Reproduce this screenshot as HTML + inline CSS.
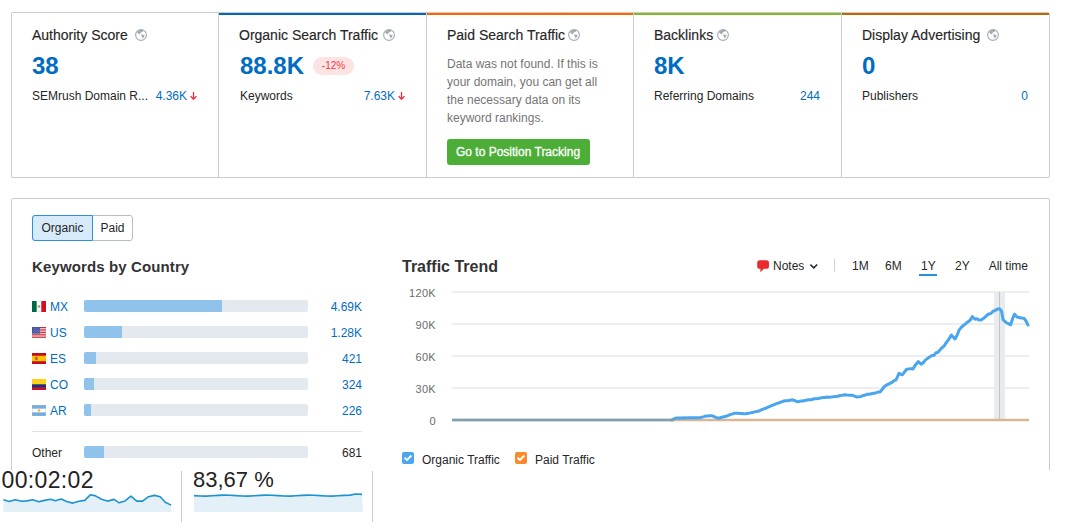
<!DOCTYPE html>
<html><head><meta charset="utf-8"><style>
html,body{margin:0;padding:0;background:#fff;width:1073px;height:530px;overflow:hidden;position:relative}
body{font-family:"Liberation Sans", sans-serif;}
.t{position:absolute;white-space:nowrap}
.r{position:absolute}
svg.r{display:block}
.r svg{display:block}
</style></head><body>
<div class="r" style="left:11px;top:12px;width:1039px;height:166px;box-sizing:border-box;border:1px solid #cccccc;border-radius:2px;background:#fff"></div>
<div class="r" style="left:218px;top:13px;width:1px;height:164px;background:#cccccc"></div>
<div class="r" style="left:426px;top:13px;width:1px;height:164px;background:#cccccc"></div>
<div class="r" style="left:633px;top:13px;width:1px;height:164px;background:#cccccc"></div>
<div class="r" style="left:841px;top:13px;width:1px;height:164px;background:#cccccc"></div>
<div class="r" style="left:219px;top:13px;width:207px;height:2px;background:#0066be"></div>
<div class="r" style="left:427px;top:13px;width:206px;height:2px;background:#ff6400"></div>
<div class="r" style="left:634px;top:13px;width:207px;height:2px;background:#7dba24"></div>
<div class="r" style="left:842px;top:13px;width:207px;height:2px;background:#be6600"></div>
<div class="t" style="left:32px;top:26.65px;font-size:14px;line-height:17px;color:#262626;font-weight:normal;-webkit-text-stroke:0.15px #262626">Authority Score</div>
<div class="t" style="left:239px;top:26.65px;font-size:14px;line-height:17px;color:#262626;font-weight:normal;-webkit-text-stroke:0.15px #262626">Organic Search Traffic</div>
<div class="t" style="left:447px;top:26.65px;font-size:14px;line-height:17px;color:#262626;font-weight:normal;-webkit-text-stroke:0.15px #262626">Paid Search Traffic</div>
<div class="t" style="left:654px;top:26.65px;font-size:14px;line-height:17px;color:#262626;font-weight:normal;-webkit-text-stroke:0.15px #262626">Backlinks</div>
<div class="t" style="left:862px;top:26.65px;font-size:14px;line-height:17px;color:#262626;font-weight:normal;-webkit-text-stroke:0.15px #262626">Display Advertising</div>
<svg class="r" style="left:135px;top:29px" width="12" height="12" viewBox="0 0 12 12"><circle cx="6" cy="6" r="5.4" fill="none" stroke="#a5adb3" stroke-width="1.15"/><path d="M1.8 3.2 Q3.5 0.6 8.3 0.9 Q8.4 2.4 7.4 3 Q6 3.2 5.4 4 Q5.2 4.8 5 5.2 L3.6 5 Q3.1 4 1.8 3.2 Z" fill="#a5adb3"/><path d="M6 5.6 Q7.6 5 9.6 6.2 Q9.4 8 7.6 9.4 Q7.2 8.4 6.8 7.4 Q6.2 6.6 6 5.6 Z" fill="#a5adb3"/></svg>
<svg class="r" style="left:383px;top:29px" width="12" height="12" viewBox="0 0 12 12"><circle cx="6" cy="6" r="5.4" fill="none" stroke="#a5adb3" stroke-width="1.15"/><path d="M1.8 3.2 Q3.5 0.6 8.3 0.9 Q8.4 2.4 7.4 3 Q6 3.2 5.4 4 Q5.2 4.8 5 5.2 L3.6 5 Q3.1 4 1.8 3.2 Z" fill="#a5adb3"/><path d="M6 5.6 Q7.6 5 9.6 6.2 Q9.4 8 7.6 9.4 Q7.2 8.4 6.8 7.4 Q6.2 6.6 6 5.6 Z" fill="#a5adb3"/></svg>
<svg class="r" style="left:568px;top:29px" width="12" height="12" viewBox="0 0 12 12"><circle cx="6" cy="6" r="5.4" fill="none" stroke="#a5adb3" stroke-width="1.15"/><path d="M1.8 3.2 Q3.5 0.6 8.3 0.9 Q8.4 2.4 7.4 3 Q6 3.2 5.4 4 Q5.2 4.8 5 5.2 L3.6 5 Q3.1 4 1.8 3.2 Z" fill="#a5adb3"/><path d="M6 5.6 Q7.6 5 9.6 6.2 Q9.4 8 7.6 9.4 Q7.2 8.4 6.8 7.4 Q6.2 6.6 6 5.6 Z" fill="#a5adb3"/></svg>
<svg class="r" style="left:717px;top:29px" width="12" height="12" viewBox="0 0 12 12"><circle cx="6" cy="6" r="5.4" fill="none" stroke="#a5adb3" stroke-width="1.15"/><path d="M1.8 3.2 Q3.5 0.6 8.3 0.9 Q8.4 2.4 7.4 3 Q6 3.2 5.4 4 Q5.2 4.8 5 5.2 L3.6 5 Q3.1 4 1.8 3.2 Z" fill="#a5adb3"/><path d="M6 5.6 Q7.6 5 9.6 6.2 Q9.4 8 7.6 9.4 Q7.2 8.4 6.8 7.4 Q6.2 6.6 6 5.6 Z" fill="#a5adb3"/></svg>
<svg class="r" style="left:987px;top:29px" width="12" height="12" viewBox="0 0 12 12"><circle cx="6" cy="6" r="5.4" fill="none" stroke="#a5adb3" stroke-width="1.15"/><path d="M1.8 3.2 Q3.5 0.6 8.3 0.9 Q8.4 2.4 7.4 3 Q6 3.2 5.4 4 Q5.2 4.8 5 5.2 L3.6 5 Q3.1 4 1.8 3.2 Z" fill="#a5adb3"/><path d="M6 5.6 Q7.6 5 9.6 6.2 Q9.4 8 7.6 9.4 Q7.2 8.4 6.8 7.4 Q6.2 6.6 6 5.6 Z" fill="#a5adb3"/></svg>
<div class="t" style="left:32px;top:50.68px;font-size:24px;line-height:29px;color:#006dc2;font-weight:bold;">38</div>
<div class="t" style="left:240px;top:50.68px;font-size:24px;line-height:29px;color:#006dc2;font-weight:bold;">88.8K</div>
<div class="t" style="left:654px;top:50.68px;font-size:24px;line-height:29px;color:#006dc2;font-weight:bold;">8K</div>
<div class="t" style="left:862px;top:50.68px;font-size:24px;line-height:29px;color:#006dc2;font-weight:bold;">0</div>
<div class="r" style="left:313px;top:57px;width:41px;height:18px;background:#fde3e3;border-radius:9px"></div>
<div class="t" style="left:333.5px;top:60.03px;font-size:10px;line-height:12px;color:#f03a3e;font-weight:normal;width:41px;margin-left:-20.5px;text-align:center">-12%</div>
<div class="t" style="left:32px;top:88.84px;font-size:12px;line-height:14px;color:#262626;font-weight:normal;">SEMrush Domain R...</div>
<div class="t" style="left:240px;top:88.84px;font-size:12px;line-height:14px;color:#262626;font-weight:normal;">Keywords</div>
<div class="t" style="left:654px;top:88.84px;font-size:12px;line-height:14px;color:#262626;font-weight:normal;">Referring Domains</div>
<div class="t" style="left:862px;top:88.84px;font-size:12px;line-height:14px;color:#262626;font-weight:normal;">Publishers</div>
<div class="t" style="right:886px;top:88.84px;font-size:12px;line-height:14px;color:#006dc2;font-weight:normal;">4.36K</div>
<div class="t" style="right:678px;top:88.84px;font-size:12px;line-height:14px;color:#006dc2;font-weight:normal;">7.63K</div>
<div class="t" style="right:253px;top:88.84px;font-size:12px;line-height:14px;color:#006dc2;font-weight:normal;">244</div>
<div class="t" style="right:45px;top:88.84px;font-size:12px;line-height:14px;color:#006dc2;font-weight:normal;">0</div>
<svg class="r" style="left:190px;top:92px" width="7" height="8" viewBox="0 0 7 8"><path d="M3.5 0 V7.3 M0.6 4.3 L3.5 7.3 L6.4 4.3" fill="none" stroke="#ee2d35" stroke-width="1.25"/></svg>
<svg class="r" style="left:398px;top:92px" width="7" height="8" viewBox="0 0 7 8"><path d="M3.5 0 V7.3 M0.6 4.3 L3.5 7.3 L6.4 4.3" fill="none" stroke="#ee2d35" stroke-width="1.25"/></svg>
<div class="t" style="left:447px;top:56.84px;font-size:12px;line-height:14px;color:#757575;font-weight:normal;">Data was not found. If this is</div>
<div class="t" style="left:447px;top:74.84px;font-size:12px;line-height:14px;color:#757575;font-weight:normal;">your domain, you can get all</div>
<div class="t" style="left:447px;top:92.84px;font-size:12px;line-height:14px;color:#757575;font-weight:normal;">the necessary data on its</div>
<div class="t" style="left:447px;top:110.84px;font-size:12px;line-height:14px;color:#757575;font-weight:normal;">keyword rankings.</div>
<div class="r" style="left:447px;top:139px;width:143px;height:26px;background:#4cae37;border-radius:3px"></div>
<div class="t" style="left:456px;top:144.84px;font-size:12px;line-height:14px;color:#fff;font-weight:normal;-webkit-text-stroke:0.3px #fff">Go to Position Tracking</div>
<div class="r" style="left:11px;top:198px;width:1039px;height:300px;box-sizing:border-box;border:1px solid #cccccc;border-radius:2px;background:#fff"></div>
<div class="r" style="left:32px;top:215px;width:101px;height:26px;box-sizing:border-box;border:1px solid #b9bec3;border-radius:3px;background:#fff"></div>
<div class="r" style="left:32px;top:215px;width:61px;height:26px;box-sizing:border-box;border:1px solid #2d8fe0;border-radius:3px 0 0 3px;background:#d7eafa"></div>
<div class="t" style="left:62.5px;top:220.84px;font-size:12px;line-height:14px;color:#262626;font-weight:normal;width:60px;margin-left:-30px;text-align:center">Organic</div>
<div class="t" style="left:112.5px;top:220.84px;font-size:12px;line-height:14px;color:#262626;font-weight:normal;width:40px;margin-left:-20px;text-align:center">Paid</div>
<div class="t" style="left:32px;top:257.80px;font-size:15px;line-height:18px;color:#333;font-weight:bold;letter-spacing:0.12px">Keywords by Country</div>
<div class="r" style="left:32px;top:301px"><svg width="14" height="11" viewBox="0 0 14 11"><rect width="14" height="11" fill="#fff"/><rect width="4.7" height="11" fill="#006847"/><rect x="9.3" width="4.7" height="11" fill="#ce1126"/><circle cx="7" cy="5.5" r="1.4" fill="#b9a27a"/><rect x="4.7" y="0" width="4.6" height="0.6" fill="#d8d8d8"/><rect x="4.7" y="10.4" width="4.6" height="0.6" fill="#d8d8d8"/></svg></div>
<div class="t" style="left:50px;top:299.84px;font-size:12px;line-height:14px;color:#006dc2;font-weight:normal;">MX</div>
<div class="r" style="left:84px;top:300px;width:224px;height:12px;background:#e3e9ef;border-radius:2px"></div>
<div class="r" style="left:84px;top:300px;width:138px;height:12px;background:#8fc3ec;border-radius:2px 0 0 2px"></div>
<div class="t" style="right:711px;top:299.84px;font-size:12px;line-height:14px;color:#006dc2;font-weight:normal;">4.69K</div>
<div class="r" style="left:32px;top:327px"><svg width="14" height="11" viewBox="0 0 14 11"><rect width="14" height="11" fill="#fff"/><rect y="0.00" width="14" height="0.95" fill="#c22231"/><rect y="1.70" width="14" height="0.95" fill="#c22231"/><rect y="3.40" width="14" height="0.95" fill="#c22231"/><rect y="5.10" width="14" height="0.95" fill="#c22231"/><rect y="6.80" width="14" height="0.95" fill="#c22231"/><rect y="8.50" width="14" height="0.95" fill="#c22231"/><rect y="10.20" width="14" height="0.95" fill="#c22231"/><rect width="8" height="6.6" fill="#3a4596"/><g fill="#c8cde8"><circle cx="1.00" cy="1.00" r="0.4"/><circle cx="2.50" cy="1.00" r="0.4"/><circle cx="4.00" cy="1.00" r="0.4"/><circle cx="5.50" cy="1.00" r="0.4"/><circle cx="7.00" cy="1.00" r="0.4"/><circle cx="1.75" cy="2.20" r="0.4"/><circle cx="3.25" cy="2.20" r="0.4"/><circle cx="4.75" cy="2.20" r="0.4"/><circle cx="6.25" cy="2.20" r="0.4"/><circle cx="7.75" cy="2.20" r="0.4"/><circle cx="1.00" cy="3.40" r="0.4"/><circle cx="2.50" cy="3.40" r="0.4"/><circle cx="4.00" cy="3.40" r="0.4"/><circle cx="5.50" cy="3.40" r="0.4"/><circle cx="7.00" cy="3.40" r="0.4"/><circle cx="1.75" cy="4.60" r="0.4"/><circle cx="3.25" cy="4.60" r="0.4"/><circle cx="4.75" cy="4.60" r="0.4"/><circle cx="6.25" cy="4.60" r="0.4"/><circle cx="7.75" cy="4.60" r="0.4"/><circle cx="1.00" cy="5.80" r="0.4"/><circle cx="2.50" cy="5.80" r="0.4"/><circle cx="4.00" cy="5.80" r="0.4"/><circle cx="5.50" cy="5.80" r="0.4"/><circle cx="7.00" cy="5.80" r="0.4"/></g></svg></div>
<div class="t" style="left:50px;top:325.84px;font-size:12px;line-height:14px;color:#006dc2;font-weight:normal;">US</div>
<div class="r" style="left:84px;top:326px;width:224px;height:12px;background:#e3e9ef;border-radius:2px"></div>
<div class="r" style="left:84px;top:326px;width:38px;height:12px;background:#8fc3ec;border-radius:2px 0 0 2px"></div>
<div class="t" style="right:711px;top:325.84px;font-size:12px;line-height:14px;color:#006dc2;font-weight:normal;">1.28K</div>
<div class="r" style="left:32px;top:353px"><svg width="14" height="11" viewBox="0 0 14 11"><rect width="14" height="11" fill="#c60b1e"/><rect y="2.75" width="14" height="5.5" fill="#ffc400"/><rect x="3.2" y="3.8" width="2.4" height="3.2" rx="0.8" fill="#c0503a"/></svg></div>
<div class="t" style="left:50px;top:351.84px;font-size:12px;line-height:14px;color:#006dc2;font-weight:normal;">ES</div>
<div class="r" style="left:84px;top:352px;width:224px;height:12px;background:#e3e9ef;border-radius:2px"></div>
<div class="r" style="left:84px;top:352px;width:12px;height:12px;background:#8fc3ec;border-radius:2px 0 0 2px"></div>
<div class="t" style="right:711px;top:351.84px;font-size:12px;line-height:14px;color:#006dc2;font-weight:normal;">421</div>
<div class="r" style="left:32px;top:379px"><svg width="14" height="11" viewBox="0 0 14 11"><rect width="14" height="11" fill="#ce1126"/><rect width="14" height="5.5" fill="#fcd116"/><rect y="5.5" width="14" height="2.75" fill="#003893"/></svg></div>
<div class="t" style="left:50px;top:377.84px;font-size:12px;line-height:14px;color:#006dc2;font-weight:normal;">CO</div>
<div class="r" style="left:84px;top:378px;width:224px;height:12px;background:#e3e9ef;border-radius:2px"></div>
<div class="r" style="left:84px;top:378px;width:10px;height:12px;background:#8fc3ec;border-radius:2px 0 0 2px"></div>
<div class="t" style="right:711px;top:377.84px;font-size:12px;line-height:14px;color:#006dc2;font-weight:normal;">324</div>
<div class="r" style="left:32px;top:405px"><svg width="14" height="11" viewBox="0 0 14 11"><rect width="14" height="11" fill="#74acdf"/><rect y="3.67" width="14" height="3.67" fill="#fff"/><circle cx="7" cy="5.5" r="1.2" fill="#f6b40e"/><rect width="14" height="11" fill="none" stroke="#a9c3d9" stroke-width="0.6"/></svg></div>
<div class="t" style="left:50px;top:403.84px;font-size:12px;line-height:14px;color:#006dc2;font-weight:normal;">AR</div>
<div class="r" style="left:84px;top:404px;width:224px;height:12px;background:#e3e9ef;border-radius:2px"></div>
<div class="r" style="left:84px;top:404px;width:7px;height:12px;background:#8fc3ec;border-radius:2px 0 0 2px"></div>
<div class="t" style="right:711px;top:403.84px;font-size:12px;line-height:14px;color:#006dc2;font-weight:normal;">226</div>
<div class="r" style="left:32px;top:431px;width:330px;height:1px;background:#e0e3e6"></div>
<div class="t" style="left:32px;top:445.84px;font-size:12px;line-height:14px;color:#262626;font-weight:normal;">Other</div>
<div class="r" style="left:84px;top:446px;width:224px;height:12px;background:#e3e9ef;border-radius:2px"></div>
<div class="r" style="left:84px;top:446px;width:20px;height:12px;background:#8fc3ec;border-radius:2px 0 0 2px"></div>
<div class="t" style="right:711px;top:445.84px;font-size:12px;line-height:14px;color:#262626;font-weight:normal;">681</div>
<div class="t" style="left:402px;top:257.46px;font-size:16px;line-height:19px;color:#333;font-weight:bold;">Traffic Trend</div>
<div class="t" style="left:773px;top:258.84px;font-size:12px;line-height:14px;color:#262626;font-weight:normal;">Notes</div>
<div class="t" style="left:852px;top:258.84px;font-size:12px;line-height:14px;color:#262626;font-weight:normal;">1M</div>
<div class="t" style="left:885px;top:258.84px;font-size:12px;line-height:14px;color:#262626;font-weight:normal;">6M</div>
<div class="t" style="left:921px;top:258.84px;font-size:12px;line-height:14px;color:#262626;font-weight:normal;">1Y</div>
<div class="t" style="left:955px;top:258.84px;font-size:12px;line-height:14px;color:#262626;font-weight:normal;">2Y</div>
<div class="t" style="right:45px;top:258.84px;font-size:12px;line-height:14px;color:#262626;font-weight:normal;">All time</div>
<div class="r" style="left:919px;top:274px;width:18px;height:2px;background:#2b8ee6"></div>
<div class="r" style="left:834px;top:259px;width:1px;height:13px;background:#d3d3d3"></div>
<div class="t" style="right:637px;top:286.69px;font-size:11px;line-height:13px;color:#6b6b6b;font-weight:normal;letter-spacing:0.3px">120K</div>
<div class="t" style="right:637px;top:318.69px;font-size:11px;line-height:13px;color:#6b6b6b;font-weight:normal;letter-spacing:0.3px">90K</div>
<div class="t" style="right:637px;top:350.69px;font-size:11px;line-height:13px;color:#6b6b6b;font-weight:normal;letter-spacing:0.3px">60K</div>
<div class="t" style="right:637px;top:382.69px;font-size:11px;line-height:13px;color:#6b6b6b;font-weight:normal;letter-spacing:0.3px">30K</div>
<div class="t" style="right:637px;top:414.69px;font-size:11px;line-height:13px;color:#6b6b6b;font-weight:normal;letter-spacing:0.3px">0</div>
<div class="r" style="left:402px;top:452px;width:12px;height:12px;background:#4ba6f1;border-radius:2px"></div>
<div class="r" style="left:515px;top:452px;width:12px;height:12px;background:#f98a2e;border-radius:2px"></div>
<div class="t" style="left:422px;top:452.84px;font-size:12px;line-height:14px;color:#262626;font-weight:normal;">Organic Traffic</div>
<div class="t" style="left:535px;top:452.84px;font-size:12px;line-height:14px;color:#262626;font-weight:normal;">Paid Traffic</div>
<div class="r" style="left:0px;top:470px;width:1073px;height:60px;background:#fff"></div>
<div class="t" style="left:1.5px;top:466.03px;font-size:23px;line-height:28px;color:#222;font-weight:normal;letter-spacing:0.35px">00:02:02</div>
<div class="t" style="left:193px;top:467.38px;font-size:22px;line-height:26px;color:#222;font-weight:normal;">83,67 %</div>
<div class="r" style="left:181px;top:471px;width:1px;height:51px;background:#ccc"></div>
<div class="r" style="left:372px;top:471px;width:1px;height:51px;background:#ccc"></div>
<svg class="r" style="left:0;top:0" width="1073" height="530" viewBox="0 0 1073 530">
<line x1="452" y1="292" x2="1029" y2="292" stroke="#eceef0" stroke-width="2"/><line x1="452" y1="324" x2="1029" y2="324" stroke="#eceef0" stroke-width="2"/><line x1="452" y1="356" x2="1029" y2="356" stroke="#eceef0" stroke-width="2"/><line x1="452" y1="388" x2="1029" y2="388" stroke="#eceef0" stroke-width="2"/>
<rect x="994" y="292" width="11" height="128" fill="#e8ecef"/>
<line x1="999.5" y1="292" x2="999.5" y2="420" stroke="#bfc6cb" stroke-width="1"/>
<line x1="452" y1="420" x2="1029" y2="420" stroke="#d8b595" stroke-width="2.4"/>
<path d="M672.0,419.80 L674.0,418.90 L676.0,418.00 L678.0,417.94 L680.0,417.88 L682.0,417.99 L684.0,417.83 L686.0,417.93 L688.0,417.87 L690.0,417.78 L692.0,417.87 L694.0,417.74 L696.0,417.82 L698.0,417.71 L700.0,417.80 L702.0,417.10 L704.0,416.58 L706.0,416.00 L708.0,416.03 L710.0,415.76 L712.0,415.80 L714.0,416.53 L716.0,417.43 L718.0,418.20 L720.0,417.81 L722.0,417.22 L724.0,416.67 L726.0,416.20 L728.0,415.62 L730.0,414.61 L732.0,414.14 L734.0,413.30 L736.0,413.31 L738.0,413.34 L740.0,413.42 L742.0,413.57 L744.0,413.82 L746.0,413.80 L748.2,413.22 L750.3,412.90 L752.5,412.45 L754.7,411.88 L756.8,411.49 L759.0,411.00 L761.3,409.88 L763.7,408.94 L766.0,408.20 L768.0,407.12 L770.0,406.43 L772.0,405.40 L774.2,404.54 L776.4,403.65 L778.6,402.99 L780.8,402.09 L783.0,401.30 L785.4,400.80 L787.8,400.74 L790.1,400.31 L792.5,399.80 L794.8,400.58 L797.0,401.70 L799.0,401.43 L801.0,401.08 L803.0,400.99 L805.0,400.58 L807.0,399.98 L809.0,399.80 L811.3,399.77 L813.6,398.82 L815.9,398.66 L818.2,398.54 L820.5,398.00 L822.7,397.53 L824.8,397.56 L827.0,397.01 L829.2,397.26 L831.3,397.11 L833.5,396.70 L835.7,396.38 L838.0,396.23 L840.2,395.42 L842.5,395.33 L844.7,394.80 L847.1,395.01 L849.6,395.13 L852.0,395.20 L854.5,396.07 L857.0,397.00 L859.0,396.79 L861.0,396.41 L863.0,395.58 L865.0,395.26 L867.0,394.32 L869.0,394.20 L871.2,393.82 L873.5,393.22 L875.8,392.97 L878.0,392.00 L880.0,392.00 L882.0,389.70 L884.0,386.80 L886.0,385.45 L888.0,384.41 L890.0,383.40 L892.0,382.45 L894.0,380.60 L896.0,380.00 L899.0,373.40 L902.4,374.80 L904.4,372.10 L906.4,369.50 L908.6,368.87 L910.8,368.63 L913.0,369.00 L915.6,364.64 L918.3,361.60 L921.0,364.20 L923.2,362.77 L925.5,359.90 L927.8,358.23 L930.0,356.80 L932.0,355.49 L934.0,355.20 L936.0,352.68 L938.0,352.30 L940.0,349.88 L942.0,347.75 L944.0,346.08 L946.0,343.00 L948.6,339.68 L951.3,335.00 L955.0,339.00 L957.1,335.27 L959.2,329.90 L961.9,326.72 L964.5,324.60 L967.1,322.39 L969.8,320.60 L972.4,316.70 L975.0,319.30 L977.0,318.81 L979.0,320.05 L981.0,320.12 L983.0,318.80 L985.6,316.70 L988.2,314.19 L990.9,313.50 L993.0,311.43 L995.2,310.35 L997.4,309.13 L999.5,308.60 L1001.5,311.00 L1003.0,319.50 L1006.0,322.50 L1008.4,323.61 L1010.7,324.80 L1012.5,319.00 L1014.5,314.20 L1017.0,317.00 L1019.0,317.50 L1021.5,318.08 L1023.9,318.20 L1026.0,321.00 L1028.0,325.00" fill="none" stroke="#4aa5ef" stroke-width="3" stroke-linejoin="round" stroke-linecap="round"/>
<line x1="452" y1="420" x2="674" y2="420" stroke="#7aa0b5" stroke-width="2.6"/>
</svg>
<svg class="r" style="left:757px;top:260px" width="13" height="13" viewBox="0 0 13 13"><path d="M2.8 0.3 H9.4 Q12 0.3 12 2.9 V6.2 Q12 8.8 9.4 8.8 H6.9 L3.3 12.3 L3.5 8.8 H2.8 Q0.2 8.8 0.2 6.2 V2.9 Q0.2 0.3 2.8 0.3 Z" fill="#ea2b2e"/></svg>
<svg class="r" style="left:809px;top:263px" width="10" height="7" viewBox="0 0 10 7"><path d="M1.4 1.6 L4.8 4.9 L8.2 1.5" fill="none" stroke="#2a2a2a" stroke-width="1.5"/></svg>
<svg class="r" style="left:402px;top:452px" width="12" height="12" viewBox="0 0 12 12"><path d="M2.5 5.7 L5 8 L9.4 3.5" fill="none" stroke="#fff" stroke-width="1.9"/></svg>
<svg class="r" style="left:515px;top:452px" width="12" height="12" viewBox="0 0 12 12"><path d="M2.5 5.7 L5 8 L9.4 3.5" fill="none" stroke="#fff" stroke-width="1.9"/></svg>
<svg class="r" style="left:0;top:0" width="1073" height="530" viewBox="0 0 1073 530">
<path d="M3.4,499.8 L9.2,501.4 L15.1,499.8 L21.8,501.3 L26.8,500.9 L32.7,499.8 L38.6,501.8 L44.5,500.4 L50.3,499.3 L55.4,500.8 L61.2,499.1 L67.1,501.8 L73,503.1 L78.9,501.3 L84.7,500.4 L90.6,494.7 L95.6,495.9 L101.5,499.3 L107.4,501.1 L114.1,499.4 L119.1,502.8 L125,500.9 L130.9,496.1 L136.7,501.1 L142.6,501.1 L148.5,496.7 L154.4,495.4 L160.2,496.7 L165.3,502.3 L171.1,505.1 L171.5,512 L3.4,512 Z" fill="#e4f0f8"/><path d="M3.4,499.8 L9.2,501.4 L15.1,499.8 L21.8,501.3 L26.8,500.9 L32.7,499.8 L38.6,501.8 L44.5,500.4 L50.3,499.3 L55.4,500.8 L61.2,499.1 L67.1,501.8 L73,503.1 L78.9,501.3 L84.7,500.4 L90.6,494.7 L95.6,495.9 L101.5,499.3 L107.4,501.1 L114.1,499.4 L119.1,502.8 L125,500.9 L130.9,496.1 L136.7,501.1 L142.6,501.1 L148.5,496.7 L154.4,495.4 L160.2,496.7 L165.3,502.3 L171.1,505.1" fill="none" stroke="#1a93cf" stroke-width="1.6" stroke-linejoin="round"/>
<path d="M194,495.6 L200,496.0 L206,496.1 L212,495.8 L218,495.4 L224,495.1 L230,495.2 L236,495.6 L242,496.0 L248,496.1 L254,495.8 L260,495.4 L266,495.1 L272,495.2 L278,495.6 L284,496.0 L290,496.1 L296,495.8 L302,495.4 L308,495.1 L314,495.2 L320,495.6 L326,496.0 L332,496.1 L338,495.8 L344,495.4 L350,495.1 L356,494.0 L362,494.4 L363,512 L194,512 Z" fill="#e4f0f8"/><path d="M194,495.6 L200,496.0 L206,496.1 L212,495.8 L218,495.4 L224,495.1 L230,495.2 L236,495.6 L242,496.0 L248,496.1 L254,495.8 L260,495.4 L266,495.1 L272,495.2 L278,495.6 L284,496.0 L290,496.1 L296,495.8 L302,495.4 L308,495.1 L314,495.2 L320,495.6 L326,496.0 L332,496.1 L338,495.8 L344,495.4 L350,495.1 L356,494.0 L362,494.4" fill="none" stroke="#1a93cf" stroke-width="1.6" stroke-linejoin="round"/>
</svg>
</body></html>
